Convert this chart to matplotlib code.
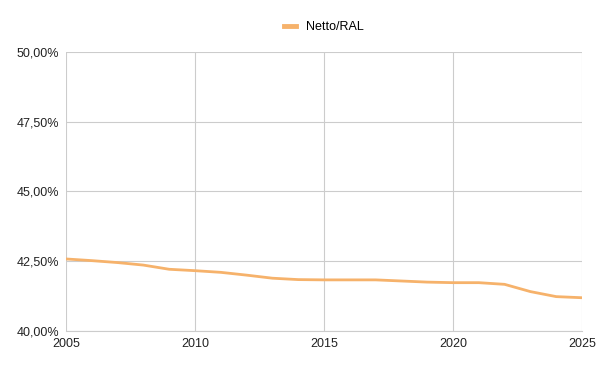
import matplotlib
matplotlib.use('Agg')
import matplotlib.pyplot as plt
from matplotlib.ticker import FuncFormatter

years = list(range(2005, 2026))
netto_ral = [42.58, 42.52, 42.45, 42.36, 42.21, 42.16, 42.10, 42.00, 41.89, 41.84, 41.83,
             41.83, 41.83, 41.79, 41.75, 41.73, 41.73, 41.67, 41.41, 41.23, 41.19]

plt.rcParams['font.family'] = ['Liberation Sans', 'DejaVu Sans']

fig, ax = plt.subplots(figsize=(6, 3.71), dpi=100)
fig.subplots_adjust(left=0.11, right=0.97, top=0.86, bottom=0.108)

ax.plot(years, netto_ral, color='#f6b26b', linewidth=2, label='Netto/RAL')

ax.set_xlim(2005, 2025)
ax.set_ylim(40, 50)
ax.set_xticks([2005, 2010, 2015, 2020, 2025])
ax.set_yticks([40, 42.5, 45, 47.5, 50])
ax.yaxis.set_major_formatter(FuncFormatter(lambda v, p: f"{v:.2f}".replace('.', ',') + '%'))

ax.grid(True, color='#cccccc', linewidth=0.8)
for side in ['top', 'right', 'left']:
    ax.spines[side].set_visible(False)
ax.spines['bottom'].set_color('#cccccc')
ax.tick_params(axis='both', length=0, labelsize=9, colors='#222222')
ax.tick_params(axis='x', pad=5)
ax.tick_params(axis='y', pad=5)

leg = ax.legend(loc='center', bbox_to_anchor=(0.5, 1.09), frameon=False, fontsize=9,
                handlelength=1.0, handleheight=0.5)
for h in leg.get_lines():
    h.set_linewidth(3.5)

fig.savefig('out.png')
